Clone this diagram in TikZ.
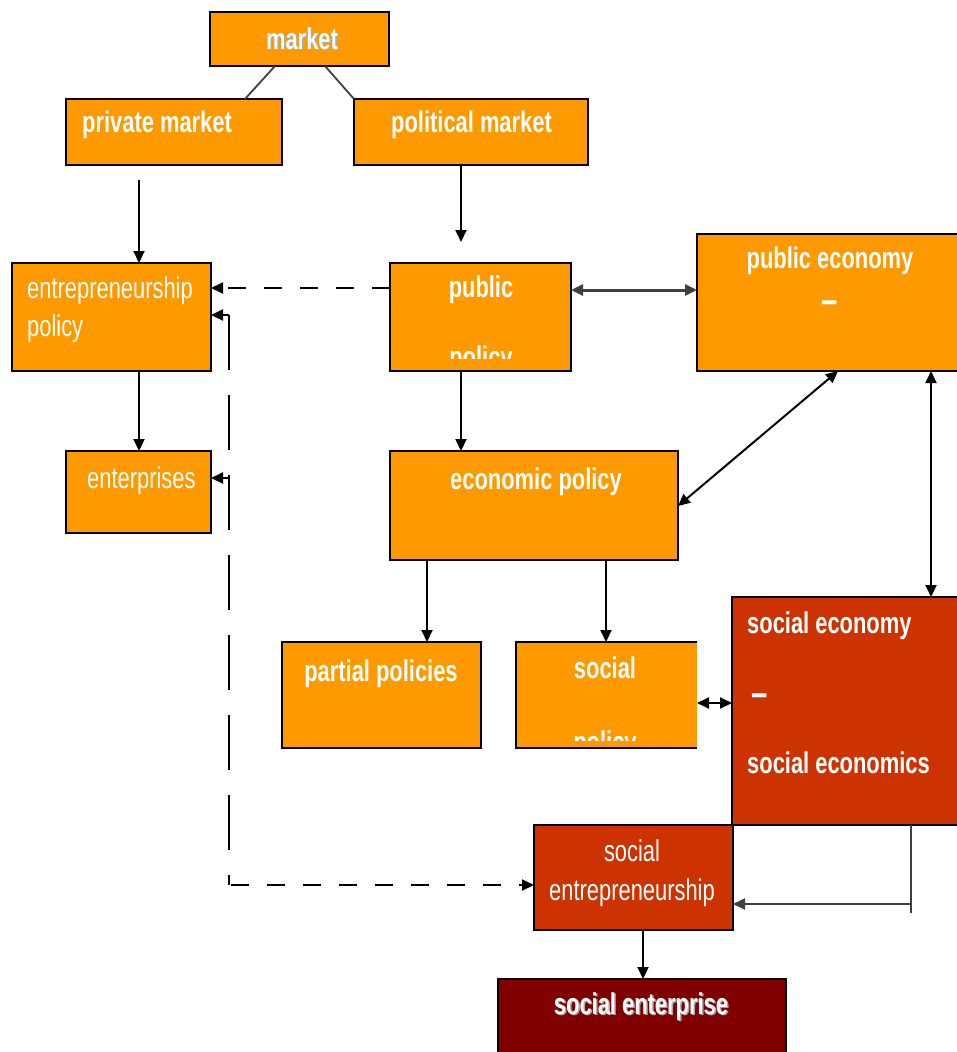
\documentclass[tikz,border=0pt]{standalone}
\usepackage{fontspec}
\setmainfont{Liberation Sans}
\newfontfamily\lblfont[FakeStretch=0.73]{Liberation Sans}
\usetikzlibrary{arrows.meta}
\definecolor{orgC}{RGB}{255,153,0}
\definecolor{redC}{RGB}{204,51,0}
\definecolor{darkC}{RGB}{128,0,0}
\definecolor{lineG}{RGB}{64,64,64}
\definecolor{shadowG}{RGB}{170,170,170}
\tikzset{
  box/.style={line width=2pt, inner sep=0pt, outer sep=0pt, anchor=north west},
  obox/.style={box, draw=black, fill=orgC},
  rbox/.style={box, draw=black, fill=redC},
  dbox/.style={box, draw=black, fill=darkC},
  lb/.style={text=white, font=\lblfont\bfseries\fontsize{30}{32}\selectfont, inner sep=0pt},
  lr/.style={text=white, font=\lblfont\fontsize{30}{32}\selectfont, inner sep=0pt},
  ld/.style={text=white, font=\lblfont\bfseries\fontsize{40}{42}\selectfont, inner sep=0pt},
  tip/.tip={Triangle[length=12pt,width=11pt]},
  arr/.style={-tip, line width=2pt},
  darr/.style={tip-tip, line width=2pt},
  dashh/.style={dash pattern=on 18pt off 18pt},
  dashv/.style={dash pattern=on 55pt off 25pt},
}
\begin{document}
\begin{tikzpicture}[x=1pt,y=-1pt]
\useasboundingbox (0,0) rectangle (957,1052);
\clip (0,0) rectangle (957,1052);
% boxes
\node[obox, minimum width=179, minimum height=54] (market) at (210,12) {};
\node[obox, minimum width=216, minimum height=66] (pm) at (66,99) {};
\node[obox, minimum width=234, minimum height=66] (polm) at (354,99) {};
\node[obox, minimum width=199, minimum height=108] (ep) at (12,263) {};
\node[obox, minimum width=181, minimum height=108] (pub) at (390,263) {};
\node[obox, minimum width=268, minimum height=137] (pube) at (697,234) {};
\node[obox, minimum width=145, minimum height=82] (ent) at (66,451) {};
\node[obox, minimum width=288, minimum height=109] (eco) at (390,451) {};
\node[obox, minimum width=199, minimum height=106] (part) at (282,642) {};
\node[box, fill=orgC, minimum width=181, minimum height=106] (soc) at (516,642) {};
\draw[line width=2pt] (soc.north east) -- (soc.north west) -- (soc.south west) -- (soc.south east);
\node[rbox, minimum width=233, minimum height=228] (se) at (732,597) {};
\node[rbox, minimum width=199, minimum height=105] (sent) at (534,825) {};
\node[dbox, minimum width=288, minimum height=85] (sep) at (498,979) {};
% texts
\node[lb, text=shadowG, anchor=base] (tmarketsh) at (303.5,50.5) {market};
\node[lb, anchor=base] (tmarket) at (302,49) {market};
\node[lb, anchor=base west] (tpm) at (82,132) {private market};
\node[lb, anchor=base west] (tpolm) at (391,132) {political market};
\node[lr, anchor=base west] (tep1) at (27,298) {entrepreneurship};
\node[lr, anchor=base west] (tep2) at (27,336) {policy};
\node[lb, anchor=base] (tpub1) at (481,297) {public};
\begin{scope}
\clip (pub.north west) rectangle ([yshift=-95pt]pub.north east);
\node[lb, anchor=base] (tpub2) at (481,367) {policy};
\end{scope}
\node[lb, anchor=base] (tpube1) at (830,268) {public economy};
\node[ld, anchor=base] (tpube2) at (830,313) {\textendash};
\node[lr, anchor=base west] (tent) at (87,488) {enterprises};
\node[lb, anchor=base] (teco) at (536,489) {economic policy};
\node[lb, anchor=base] (tpart) at (381,681) {partial policies};
\node[lb, anchor=base] (tsoc1) at (605,678) {social};
\begin{scope}
\clip (soc.north west) rectangle ([yshift=-98pt]soc.north east);
\node[lb, anchor=base] (tsoc2) at (605,752) {policy};
\end{scope}
\node[lb, anchor=base west] (tse1) at (747,633) {social economy};
\node[ld, anchor=base west] (tse2) at (751,706) {\textendash};
\node[lb, anchor=base west] (tse3) at (747,773) {social economics};
\node[lr, anchor=base] (tsent1) at (632,861) {social};
\node[lr, anchor=base] (tsent2) at (632,900) {entrepreneurship};
\node[lb, text=shadowG, anchor=base] (tsepsh) at (642.5,1015.5) {social enterprise};
\node[lb, anchor=base] (tsep) at (641,1014) {social enterprise};
% connectors
\draw[lineG, line width=1.8pt] ([xshift=-24.5pt]market.south) -- ([xshift=179pt]pm.north west);
\draw[lineG, line width=1.8pt] ([xshift=25.5pt]market.south) -- (polm.north west);
\draw[arr] ([xshift=73pt,yshift=-15pt]pm.south west) -- ([xshift=127pt]ep.north west);
\coordinate (polmend) at (461,242);
\draw[arr] ([xshift=107pt]polm.south west) -- (polmend);
\draw[arr, dashh] ([yshift=-25pt]pub.north west) -- ([yshift=-25pt]ep.north east);
\draw[tip-tip, lineG, line width=3pt] ([yshift=-27pt]pub.north east) -- ([yshift=-56pt]pube.north west);
\draw[arr] ([xshift=71pt]pub.south west) -- ([xshift=71pt]eco.north west);
\draw[arr] ([xshift=127pt]ep.south west) -- ([xshift=73pt]ent.north west);
\draw[darr] ([xshift=141pt]pube.south west) -- ([yshift=-55pt]eco.north east);
\draw[darr] ([xshift=234pt]pube.south west) -- ([xshift=199pt]se.north west);
\draw[arr] ([xshift=37pt]eco.south west) -- ([xshift=145pt]part.north west);
\draw[arr] ([xshift=216pt]eco.south west) -- ([xshift=90pt]soc.north west);
\draw[darr] ([yshift=-61pt]soc.north east) -- ([yshift=-106pt]se.north west);
\coordinate (sebot) at (911,913);
\coordinate (sejoin) at (911,904);
\draw[lineG, line width=2pt] ([xshift=179pt]se.south west) -- (sebot);
\draw[arr, lineG] (sejoin) -- ([yshift=-79pt]sent.north east);
\draw[arr] ([xshift=109pt]sent.south west) -- ([xshift=145pt]sep.north west);
% dashed feedback
\coordinate (j1) at (229,315);
\coordinate (j2) at (229,478);
\coordinate (j3) at (229,885);
\draw[line width=2pt, dashv] (j1) -- (j3);
\draw[arr] (j1) -- ([yshift=-52pt]ep.north east);
\draw[arr] (j2) -- ([yshift=-27pt]ent.north east);
\draw[arr, dashh, dash phase=-2pt] (j3) -- ([yshift=-60pt]sent.north west);
\end{tikzpicture}
\end{document}
